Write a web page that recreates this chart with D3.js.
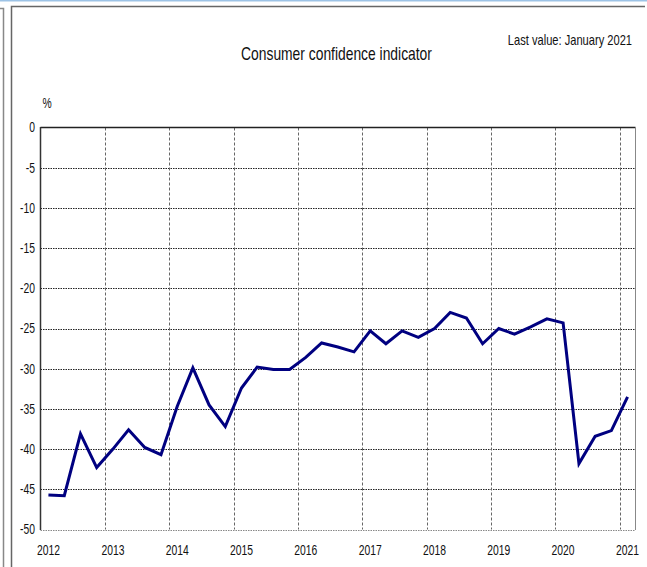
<!DOCTYPE html>
<html>
<head>
<meta charset="utf-8">
<script src="https://cdn.jsdelivr.net/npm/d3@7"></script>
<style>
  body { margin: 0; background: #fff; }
  svg text { font-family: "Liberation Sans", Arial, sans-serif; fill: #111; }
</style>
</head>
<body>
<div id="chart"></div>
<script>
// quarterly values, 2012 Q1 .. 2021 Q1 (last one = January 2021)
const quarters = ['2012Q1','2012Q2','2012Q3','2012Q4','2013Q1','2013Q2','2013Q3','2013Q4',
  '2014Q1','2014Q2','2014Q3','2014Q4','2015Q1','2015Q2','2015Q3','2015Q4',
  '2016Q1','2016Q2','2016Q3','2016Q4','2017Q1','2017Q2','2017Q3','2017Q4',
  '2018Q1','2018Q2','2018Q3','2018Q4','2019Q1','2019Q2','2019Q3','2019Q4',
  '2020Q1','2020Q2','2020Q3','2020Q4','2021Q1'];
const confidence = [-45.7,-45.8,-38.1,-42.3,-40.0,-37.6,-39.8,-40.7,
  -34.7,-29.9,-34.5,-37.2,-32.4,-29.8,-30.1,-30.1,
  -28.6,-26.8,-27.3,-27.9,-25.3,-26.9,-25.3,-26.1,
  -25.0,-23.0,-23.7,-26.9,-25.0,-25.7,-24.8,-23.8,
  -24.3,-41.8,-38.4,-37.7,-33.5];
const yearTicks = [2012,2013,2014,2015,2016,2017,2018,2019,2020,2021];
const valueTicks = [0,-5,-10,-15,-20,-25,-30,-35,-40,-45,-50];

const width = 647, height = 567;
const narrow = 0.74; // reference font is a condensed face
const svg = d3.select('#chart').append('svg')
  .attr('width', width).attr('height', height);

// frame
svg.append('line').attr('x1',0).attr('x2',width).attr('y1',0.5).attr('y2',0.5)
  .attr('stroke','#9dc3e6').attr('stroke-width',2);
svg.append('path').attr('d','M0,8.5H3.5V567').attr('fill','none').attr('stroke','#888').attr('stroke-width',1.5);
svg.append('path').attr('d','M11.5,567V6.5H645').attr('fill','none').attr('stroke','#666').attr('stroke-width',1.5);

const x = d3.scaleTime()
  .domain([new Date(2012,0,1), new Date(2021,3,1)])
  .range([40.5, 635.5]);
const y = d3.scaleLinear().domain([-50,0]).range([529.5,127.5]);

const qDate = q => new Date(+q.slice(0,4), (+q.slice(5)-1)*3+1, 15);

// horizontal grid
svg.append('g').selectAll('line').data(valueTicks.filter(v => v !== 0)).join('line')
  .attr('x1', 40.5).attr('x2', 635.5)
  .attr('y1', d => Math.round(y(d))+0.5).attr('y2', d => Math.round(y(d))+0.5)
  .attr('stroke', d => d === -50 ? '#888' : '#222')
  .attr('stroke-dasharray', '1.5,1');

// vertical grid
svg.append('g').selectAll('line').data(yearTicks.slice(1)).join('line')
  .attr('x1', d => Math.round(x(new Date(d,0,1)))+0.5)
  .attr('x2', d => Math.round(x(new Date(d,0,1)))+0.5)
  .attr('y1', 127.5).attr('y2', 529.5)
  .attr('stroke', '#666')
  .attr('stroke-dasharray', '3,2');

// border lines
svg.append('line').attr('x1',40.5).attr('x2',635.5).attr('y1',127.5).attr('y2',127.5)
  .attr('stroke','#222').attr('stroke-width',1.5);
svg.append('line').attr('x1',40.5).attr('x2',40.5).attr('y1',127).attr('y2',530)
  .attr('stroke','#333').attr('stroke-width',1.5);
svg.append('line').attr('x1',635.5).attr('x2',635.5).attr('y1',127).attr('y2',530)
  .attr('stroke','#888').attr('stroke-width',1);

// axis labels
svg.append('g').selectAll('text').data(valueTicks).join('text')
  .attr('transform', d => `translate(35,${y(d)}) scale(${narrow},1)`)
  .attr('dy','0.35em')
  .attr('text-anchor','end').attr('font-size', 14)
  .text(d => d);
svg.append('g').selectAll('text').data(yearTicks).join('text')
  .attr('transform', d => `translate(${x(new Date(d,1,15))},555) scale(${narrow},1)`)
  .attr('text-anchor','middle').attr('font-size', 14)
  .text(d => d);

svg.append('text').attr('transform', `translate(47,108) scale(${narrow},1)`)
  .attr('text-anchor','middle').attr('font-size', 14).text('%');
svg.append('text').attr('transform', 'translate(336.5,60) scale(0.77,1)')
  .attr('text-anchor','middle').attr('font-size', 18)
  .text('Consumer confidence indicator');
svg.append('text').attr('transform', 'translate(632,45) scale(0.795,1)')
  .attr('text-anchor','end').attr('font-size', 14)
  .text('Last value: January 2021');

// series
const line = d3.line()
  .x((d,i) => x(qDate(quarters[i])))
  .y(d => y(d));
svg.append('path').datum(confidence)
  .attr('d', line)
  .attr('fill','none')
  .attr('stroke','#000080')
  .attr('stroke-width',3)
  .attr('stroke-linejoin','miter');
</script>
</body>
</html>
